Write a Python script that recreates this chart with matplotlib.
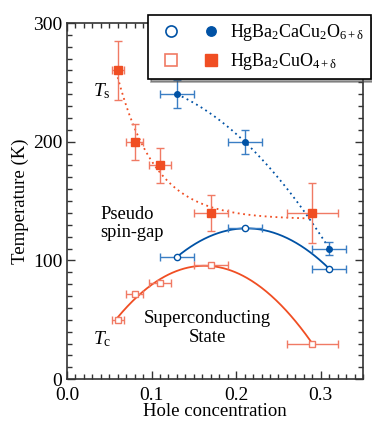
import numpy as np
import matplotlib
matplotlib.use('Agg')
import matplotlib.pyplot as plt
from matplotlib.lines import Line2D
from matplotlib.legend_handler import HandlerTuple
from matplotlib.ticker import MultipleLocator

plt.rcParams['font.family'] = ['Liberation Serif', 'DejaVu Serif']
plt.rcParams['mathtext.fontset'] = 'custom'
plt.rcParams['mathtext.rm'] = 'Liberation Serif'
plt.rcParams['mathtext.it'] = 'Liberation Serif:italic'

# HgBa2CuO4+d (Hg1201)
x_1201 = [0.06, 0.08, 0.11, 0.17, 0.29]
xerr_1201 = [0.007, 0.01, 0.013, 0.02, 0.03]
ts_1201 = [260, 200, 180, 140, 140]
ts_err_1201 = [25, 15, 15, 15, 25]
tc_1201 = [50, 72, 81, 96, 30]

# HgBa2CaCu2O6+d (Hg1212)
x_1212 = [0.13, 0.21, 0.31]
xerr_1212 = [0.02, 0.02, 0.02]
ts_1212 = [240, 200, 110]
ts_err_1212 = [12, 10, 5.5]
tc_1212 = [103, 127, 93]

red = '#f04e23'
red_err = '#f07a64'
blue = '#0052a5'
blue_err = '#3a7ec4'

fig = plt.figure(figsize=(3.72, 4.26), dpi=100)
ax = fig.add_axes([0.180, 0.110, 0.796, 0.836])

# guide curves (fits)
xs = np.linspace(min(x_1201), max(x_1201), 200)
c = 0.045
A = np.column_stack([np.ones(len(x_1201)), np.exp(-np.array(x_1201) / c)])
coef, *_ = np.linalg.lstsq(A, np.array(ts_1201, float), rcond=None)
ax.plot(xs, coef[0] + coef[1] * np.exp(-xs / c), color=red, lw=1.3, ls=(0, (1, 2)))

p_tc1201 = np.polyfit(x_1201, tc_1201, 3)
ax.plot(xs, np.polyval(p_tc1201, xs), color=red, lw=1.3)

xs2 = np.linspace(min(x_1212), max(x_1212), 200)
ax.plot(xs2, np.polyval(np.polyfit(x_1212, ts_1212, 2), xs2), color=blue, lw=1.3, ls=(0, (1, 2)))
ax.plot(xs2, np.polyval(np.polyfit(x_1212, tc_1212, 2), xs2), color=blue, lw=1.3)

# data with error bars
ax.errorbar(x_1201, ts_1201, xerr=xerr_1201, yerr=ts_err_1201, fmt='s', ms=5.6,
            color=red, ecolor=red_err, elinewidth=1, capsize=3.2, zorder=3)
ax.errorbar(x_1201, tc_1201, xerr=xerr_1201, fmt='s', ms=4.5, mfc='white', mec=red_err,
            mew=1, ecolor=red_err, elinewidth=1, capsize=3.2, zorder=3)
ax.errorbar(x_1212, ts_1212, xerr=xerr_1212, yerr=ts_err_1212, fmt='o', ms=4,
            color=blue, ecolor=blue_err, elinewidth=1, capsize=3.2, zorder=3)
ax.errorbar(x_1212, tc_1212, xerr=xerr_1212, fmt='o', ms=4.5, mfc='white', mec=blue,
            mew=1, ecolor=blue_err, elinewidth=1, capsize=3.2, zorder=3)

ax.set_xlim(0, 0.35)
ax.set_ylim(0, 300)
ax.xaxis.set_major_locator(MultipleLocator(0.1))
ax.xaxis.set_minor_locator(MultipleLocator(0.01))
ax.yaxis.set_major_locator(MultipleLocator(100))
ax.yaxis.set_minor_locator(MultipleLocator(10))
ax.xaxis.set_major_formatter(matplotlib.ticker.FormatStrFormatter('%.1f'))
ax.tick_params(which='both', direction='in', top=True, right=True, color='#333333',
               labelsize=14, width=1)
ax.tick_params(which='major', length=6)
ax.tick_params(which='minor', length=3.5)
ax.tick_params(axis='x', pad=6)
for s in ax.spines.values():
    s.set_color('#333333')
    s.set_linewidth(1.2)

ax.set_xlabel('Hole concentration', fontsize=13.5, labelpad=-1)
ax.set_ylabel('Temperature (K)', fontsize=13.5, labelpad=3)

ax.text(0.031, 243, r'$T_\mathrm{s}$', fontsize=14, ha='left', va='center')
ax.text(0.031, 34, r'$T_\mathrm{c}$', fontsize=14, ha='left', va='center')
ax.text(0.039, 131, 'Pseudo\nspin-gap', fontsize=13.3, ha='left', va='center', linespacing=1.1)
ax.text(0.166, 43, 'Superconducting\nState', fontsize=13.5, ha='center', va='center', linespacing=1.1)

h_open_b = Line2D([], [], marker='o', ls='none', ms=8, mfc='white', mec=blue, mew=1.2)
h_fill_b = Line2D([], [], marker='o', ls='none', ms=6.8, color=blue)
h_open_r = Line2D([], [], marker='s', ls='none', ms=8, mfc='white', mec=red_err, mew=1.2)
h_fill_r = Line2D([], [], marker='s', ls='none', ms=8, color=red)
leg = fig.legend([(h_open_b, h_fill_b), (h_open_r, h_fill_r)],
                 [r'HgBa$_\mathrm{2}$CaCu$_\mathrm{2}$O$_\mathrm{6+δ}$',
                  r'HgBa$_\mathrm{2}$CuO$_\mathrm{4+δ}$'],
                 handler_map={tuple: HandlerTuple(ndivide=None, pad=0.48)},
                 loc='upper right', bbox_to_anchor=(0.996, 0.965), fontsize=12.9,
                 handlelength=4.0, handletextpad=0.15, borderpad=0.4, labelspacing=0.45,
                 fancybox=False, shadow=True, edgecolor='black', framealpha=1,
                 borderaxespad=0)
leg.get_frame().set_linewidth(1.2)

fig.savefig('out.png', dpi=100)
